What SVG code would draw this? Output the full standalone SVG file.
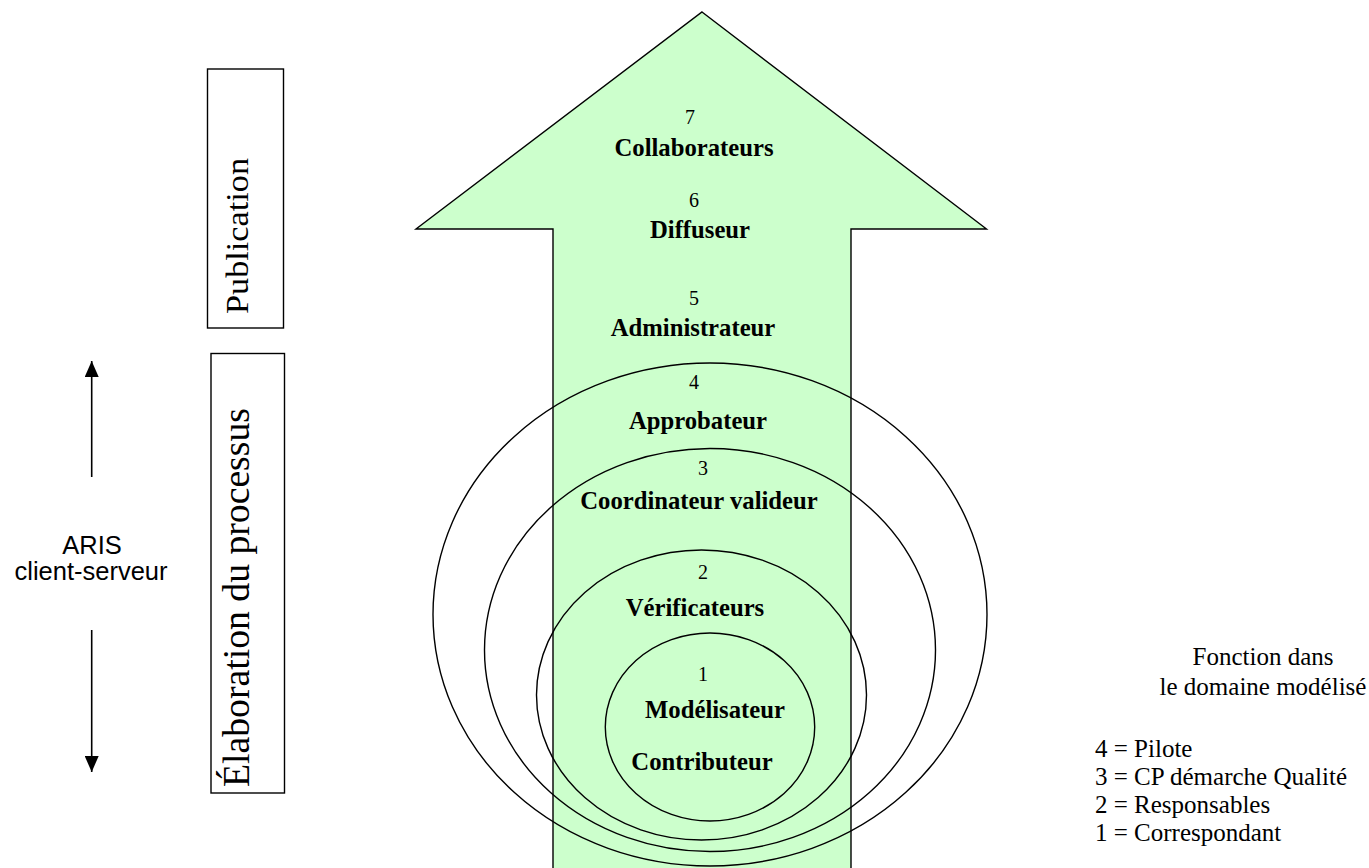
<svg xmlns="http://www.w3.org/2000/svg" width="1369" height="868" viewBox="0 0 1369 868">
<style>
.serif{font-family:"Liberation Serif","Times New Roman",serif;fill:#000}
.num{font-size:20px;text-anchor:middle}
.lbl{font-size:24.7px;font-weight:bold;text-anchor:middle}
.leg{font-size:25px}
.sans{font-family:"Liberation Sans",Arial,sans-serif;font-size:25.5px;text-anchor:middle;fill:#000}
.ring{fill:none;stroke:#000;stroke-width:1.4}
.box{fill:#fff;stroke:#000;stroke-width:1.4}
.conn{stroke:#000;stroke-width:1.6;fill:none}
</style>
<defs>
<marker id="head" viewBox="0 0 16 14" refX="16" refY="7" markerWidth="16" markerHeight="14" markerUnits="userSpaceOnUse" orient="auto">
<path d="M0,0 L16,7 L0,14 Z" fill="#000"/>
</marker>
</defs>
<rect width="1369" height="868" fill="#fff"/>
<g id="big-arrow">
<polygon points="702,12 986.5,229 851,229 851,872 553,872 553,229 416,229" fill="#CCFFCC" stroke="#000" stroke-width="1.4"/>
</g>
<g id="rings">
<ellipse id="ring4" class="ring" cx="710" cy="614.5" rx="277" ry="251.5"/>
<ellipse id="ring3" class="ring" cx="710" cy="650" rx="225.5" ry="201.5"/>
<ellipse id="ring2" class="ring" cx="701.5" cy="695" rx="165" ry="145"/>
<ellipse id="ring1" class="ring" cx="710" cy="727" rx="104.7" ry="94"/>
</g>
<g id="level7"><text class="serif num" x="690" y="124">7</text><text class="serif lbl" x="694" y="156">Collaborateurs</text></g>
<g id="level6"><text class="serif num" x="694" y="207">6</text><text class="serif lbl" x="700" y="238">Diffuseur</text></g>
<g id="level5"><text class="serif num" x="694" y="305">5</text><text class="serif lbl" x="693" y="336">Administrateur</text></g>
<g id="level4"><text class="serif num" x="694" y="389">4</text><text class="serif lbl" x="698" y="429">Approbateur</text></g>
<g id="level3"><text class="serif num" x="703" y="475">3</text><text class="serif lbl" x="699" y="509">Coordinateur valideur</text></g>
<g id="level2"><text class="serif num" x="703" y="579">2</text><text class="serif lbl" x="695" y="616">Vérificateurs</text></g>
<g id="level1"><text class="serif num" x="703" y="681">1</text><text class="serif lbl" x="715" y="718">Modélisateur</text><text class="serif lbl" x="702" y="770">Contributeur</text></g>
<g id="publication">
<rect class="box" x="207.5" y="69" width="76" height="259"/>
<text class="serif" font-size="32" x="248" y="314" textLength="156" lengthAdjust="spacingAndGlyphs" transform="rotate(-90 248 314)">Publication</text>
</g>
<g id="elaboration">
<rect class="box" x="211" y="353.5" width="73.5" height="439.5"/>
<text class="serif" font-size="37" x="248.5" y="787" textLength="379" lengthAdjust="spacingAndGlyphs" transform="rotate(-90 248.5 787)">Élaboration du processus</text>
</g>
<g id="aris">
<text class="sans" x="92" y="554">ARIS</text>
<text class="sans" x="91" y="580">client-serveur</text>
</g>
<g id="connectors">
<line class="conn" x1="91.7" y1="477" x2="91.7" y2="361" marker-end="url(#head)"/>
<line class="conn" x1="91.7" y1="630" x2="91.7" y2="772" marker-end="url(#head)"/>
</g>
<g id="legend">
<text class="serif leg" x="1263" y="665" text-anchor="middle">Fonction dans</text>
<text class="serif leg" x="1263" y="695" text-anchor="middle">le domaine modélisé</text>
<text class="serif leg" x="1095" y="757">4 = Pilote</text>
<text class="serif leg" x="1095" y="785">3 = CP démarche Qualité</text>
<text class="serif leg" x="1095" y="813">2 = Responsables</text>
<text class="serif leg" x="1095" y="841">1 = Correspondant</text>
</g>
</svg>
